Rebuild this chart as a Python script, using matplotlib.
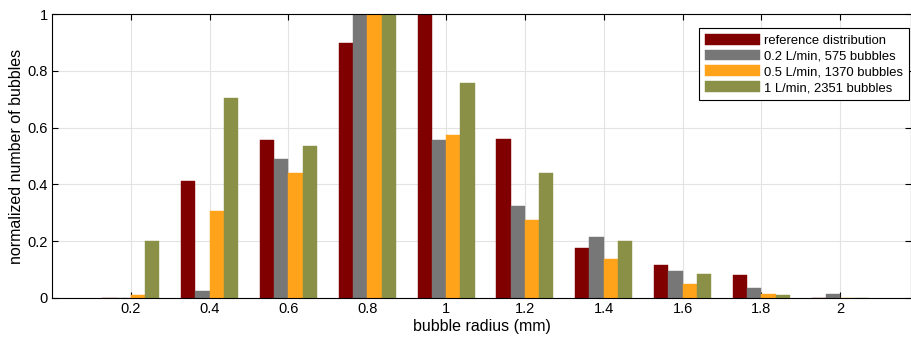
import numpy as np
import matplotlib
matplotlib.use("Agg")
import matplotlib.pyplot as plt

plt.rcParams['font.family'] = ['Liberation Sans', 'DejaVu Sans']

radius = [0.2, 0.4, 0.6, 0.8, 1.0, 1.2, 1.4, 1.6, 1.8, 2.0]
tick_labels = ['0.2', '0.4', '0.6', '0.8', '1', '1.2', '1.4', '1.6', '1.8', '2']

reference = [0.0, 0.413, 0.556, 0.898, 1.0, 0.56, 0.176, 0.115, 0.081, 0.0]
flow_02 = [0.0, 0.026, 0.489, 1.0, 0.557, 0.325, 0.216, 0.096, 0.036, 0.014]
flow_05 = [0.009, 0.305, 0.441, 1.0, 0.574, 0.275, 0.136, 0.05, 0.013, 0.0]
flow_1 = [0.2, 0.704, 0.534, 1.0, 0.757, 0.441, 0.202, 0.085, 0.009, 0.0]

series = [reference, flow_02, flow_05, flow_1]
labels = ['reference distribution', '0.2 L/min, 575 bubbles',
          '0.5 L/min, 1370 bubbles', '1 L/min, 2351 bubbles']
colors = ['#800000', '#777777', '#ffa31a', '#8a9147']

fig = plt.figure(figsize=(9.12, 3.42), dpi=100)
ax = fig.add_axes([0.057, 0.129, 0.942, 0.83])

x = np.array(radius)
w = 0.0362
for i, (vals, lab, col) in enumerate(zip(series, labels, colors)):
    ax.bar(x + (i - 1.5) * w, vals, width=w, color=col, label=lab,
           edgecolor=col, linewidth=0.3, zorder=2)

ax.set_xlim(0, 2.18)
ax.set_ylim(0, 1)
ax.set_xticks(radius)
ax.set_xticklabels(tick_labels)
ax.set_yticks([0, 0.2, 0.4, 0.6, 0.8, 1])
ax.set_yticklabels(['0', '0.2', '0.4', '0.6', '0.8', '1'])
ax.grid(True, color='#e3e3e3', linewidth=0.8, zorder=0)
ax.set_axisbelow(True)
ax.tick_params(direction='in', top=True, right=True, labelsize=10.5, length=4, pad=3)
for s in ax.spines.values():
    s.set_linewidth(0.8)
ax.set_xlabel('bubble radius (mm)', fontsize=11.5, labelpad=2)
ax.set_ylabel('normalized number of bubbles', fontsize=11.5)
ax.yaxis.set_label_coords(-0.032, 0.5)

leg = ax.legend(loc='upper right', fontsize=9.4, handlelength=4.2, handleheight=0.9,
                handletextpad=0.35, borderpad=0.45, labelspacing=0.22,
                fancybox=False, edgecolor='black', framealpha=1,
                borderaxespad=0, bbox_to_anchor=(0.998, 0.951))
leg.get_frame().set_linewidth(0.8)

fig.savefig('out.png', dpi=100)
